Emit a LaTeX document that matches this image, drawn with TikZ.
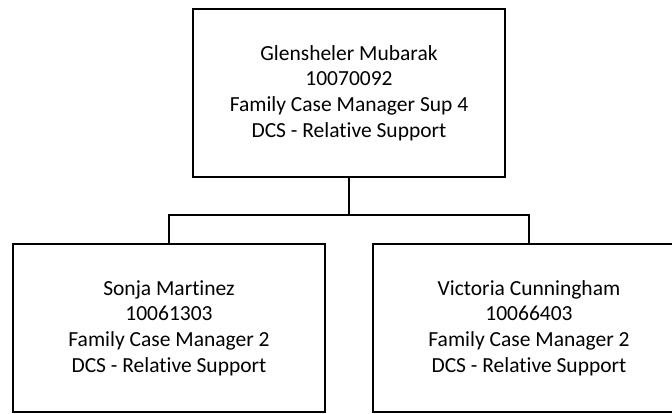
\documentclass[tikz,border=0pt]{standalone}
\usepackage{fontspec}
\setmainfont{Carlito}[Ligatures=NoCommon]
\begin{document}
\begin{tikzpicture}[x=1pt,y=-1pt,
  person/.style={draw=black,line width=2pt,rectangle,minimum width=312pt,
    minimum height=168pt,align=center,inner sep=0pt,
    font=\fontsize{21.5}{25.6}\selectfont},
  link/.style={draw=black,line width=2pt}]
  \useasboundingbox (0,0) rectangle (672,413);
  \clip (0,0) rectangle (672,413);
  \fill[white] (0,0) rectangle (672,413);
  \node[person] (boss) at (349,93) {Glensheler Mubarak\\10070092\\Family Case Manager Sup 4\\DCS - Relative Support};
  \node[person] (sonja) at (169,328) {Sonja Martinez\\10061303\\Family Case Manager 2\\DCS - Relative Support};
  \node[person] (victoria) at (529,328) {Victoria Cunningham\\10066403\\Family Case Manager 2\\DCS - Relative Support};
  \coordinate (bar) at (349,215);
  \draw[link] (boss.south) -- (bar);
  \draw[link] (bar) -| (sonja.north);
  \draw[link] (bar) -| (victoria.north);
\end{tikzpicture}
\end{document}
